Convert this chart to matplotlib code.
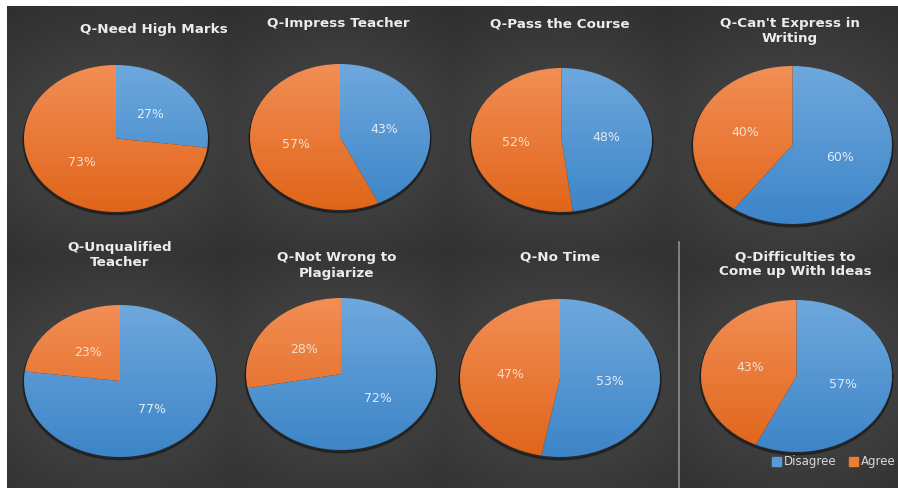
import numpy as np
import matplotlib
matplotlib.use('Agg')
import matplotlib.pyplot as plt
from matplotlib.patches import Patch, Ellipse
from matplotlib.colors import LinearSegmentedColormap

# ---------------- data ----------------
titles = ["Q-Need High Marks", "Q-Impress Teacher", "Q-Pass the Course",
          "Q-Can't Express in\nWriting", "Q-Unqualified\nTeacher",
          "Q-Not Wrong to\nPlagiarize", "Q-No Time",
          "Q-Difficulties to\nCome up With Ideas"]
categories = ["Disagree", "Agree"]
disagree = [27, 43, 48, 60, 77, 72, 53, 57]
agree = [73, 57, 52, 40, 23, 28, 47, 43]

# ---------------- layout (pixels, top-left origin) ----------------
W, H = 898, 488
pie_centers = [(116, 138.5), (340, 137), (561.5, 140), (792.5, 145),
               (120, 381), (341, 374), (560, 378), (796.5, 376)]
pie_radii = [(92, 73.5), (90, 73), (90.5, 72), (99.5, 79),
             (96, 76), (95, 76), (100, 79), (95.5, 76)]
title_pos = [(154, 29), (338, 24), (560, 24), (790, 31),
             (120, 255), (337, 265.5), (560, 257), (795, 264.5)]

fig = plt.figure(figsize=(W / 100, H / 100), dpi=100)
fig.patch.set_facecolor('white')

# ---------------- background ----------------
bg = fig.add_axes([7 / W, 0, (W - 7) / W, (H - 6) / H])
yy, xx = np.mgrid[6:H, 7:W] + 0.5
glow = np.zeros_like(xx, dtype=float)
for (cx, cy), (rx, ry) in zip(pie_centers, pie_radii):
    d2 = ((xx - cx) / (rx * 2.2)) ** 2 + ((yy - cy) / (ry * 2.2)) ** 2
    glow = np.maximum(glow, np.exp(-d2 * 1.4))
base, top = 0x28 / 255, 0x46 / 255
val = base + (top - base) * glow
bg.imshow(np.dstack([val, val, val]), extent=[7, W, H, 6], aspect='auto',
          interpolation='bilinear')
bg.plot([679, 679], [242, H], color='#8f8f8f', lw=1.2)
bg.set_xlim(7, W)
bg.set_ylim(H, 6)
bg.axis('off')

# ---------------- pies ----------------
blue_cmap = LinearSegmentedColormap.from_list('b', ['#3d85c8', '#6ea8dd'])
orange_cmap = LinearSegmentedColormap.from_list('o', ['#e0651a', '#f28e55'])
grad = np.linspace(0, 1, 256).reshape(-1, 1)
label_colors = ['#e2ecf6', '#f7dfcf']

for i in range(len(titles)):
    cx, cy = pie_centers[i]
    rx, ry = pie_radii[i]
    pad = 1.06
    ax = fig.add_axes([(cx - rx * pad) / W, 1 - (cy + ry * pad) / H,
                       2 * rx * pad / W, 2 * ry * pad / H])
    wedges, texts, autotexts = ax.pie(
        [disagree[i], agree[i]], startangle=90, counterclock=False,
        autopct=lambda p: f'{p:.0f}%', pctdistance=0.5,
        textprops=dict(fontsize=9))
    ax.add_patch(Ellipse((0.0, -0.025), 2.02, 2.02, color='#141414',
                         alpha=0.55, zorder=-1))
    for w, cm in zip(wedges, [blue_cmap, orange_cmap]):
        im = ax.imshow(grad, cmap=cm, extent=[-1, 1, -1, 1], origin='lower',
                       aspect='auto', zorder=1)
        im.set_clip_path(w)
        w.set_facecolor('none')
        w.set_edgecolor('none')
        w.set_zorder(2)
    for t, c in zip(autotexts, label_colors):
        t.set_color(c)
        t.set_zorder(5)
    ax.set_aspect('auto')
    ax.set_xlim(-pad, pad)
    ax.set_ylim(-pad, pad)
    ax.axis('off')

    tx, ty = title_pos[i]
    fig.text(tx / W, 1 - ty / H, titles[i], ha='center', va='center',
             color='#ececec', fontsize=9.7, fontweight='bold',
             linespacing=1.2)

# ---------------- legend ----------------
handles = [Patch(color='#5b9bd5'), Patch(color='#ed7d31')]
fig.legend(handles=handles, labels=categories, loc='center right',
           bbox_to_anchor=(900 / W, 1 - 462 / H), ncol=2, frameon=False,
           handlelength=0.75, handleheight=0.75, handletextpad=0.25,
           columnspacing=1.0, labelcolor='#d9d9d9', fontsize=8.5,
           borderpad=0.2, borderaxespad=0.2)

fig.savefig('out.png', dpi=100, facecolor=fig.get_facecolor())
